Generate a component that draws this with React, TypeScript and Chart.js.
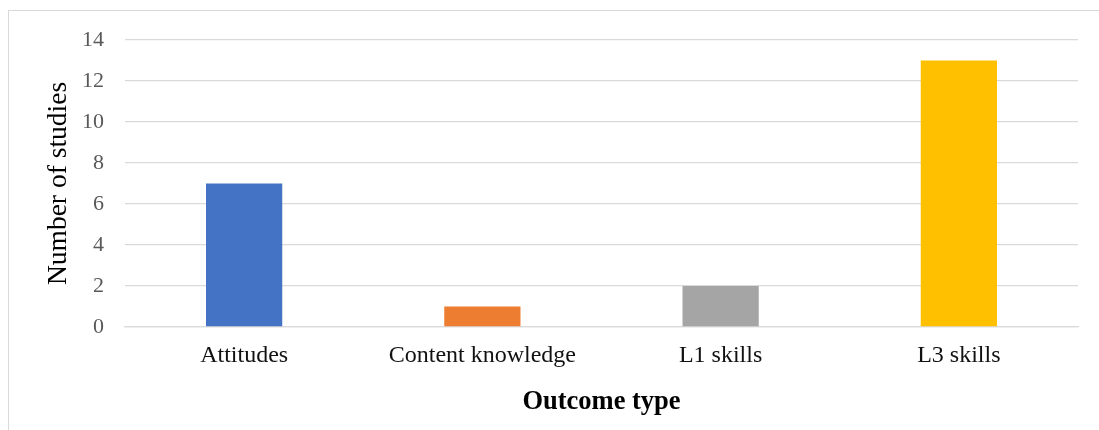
import React, { useEffect, useRef } from "react";
import { Chart, registerables } from "chart.js";

Chart.register(...registerables);

const categories = ["Attitudes", "Content knowledge", "L1 skills", "L3 skills"];
const studyCounts = [7, 1, 2, 13];
const barColors = ["#4472C4", "#ED7D31", "#A5A5A5", "#FFC000"];
const yTicks = [0, 2, 4, 6, 8, 10, 12, 14];

const SERIF = "'Liberation Serif', 'Times New Roman', serif";

export default function App() {
  const canvasRef = useRef<HTMLCanvasElement | null>(null);

  useEffect(() => {
    const canvas = canvasRef.current;
    if (!canvas) return;
    const chart = new Chart(canvas, {
      type: "bar",
      data: {
        labels: categories,
        datasets: [
          {
            data: studyCounts,
            backgroundColor: barColors,
            borderWidth: 0,
            categoryPercentage: 1,
            barPercentage: 0.32,
          },
        ],
      },
      options: {
        responsive: false,
        animation: false,
        devicePixelRatio: 1,
        layout: { padding: { left: 0, right: 21, top: 40, bottom: 0 } },
        plugins: {
          legend: { display: false },
          tooltip: { enabled: false },
        },
        scales: {
          x: {
            grid: { display: false, drawTicks: false },
            border: { display: true, color: "#d9d9d9", width: 1.3 },
            ticks: {
              color: "#111111",
              font: { family: SERIF, size: 24 },
              padding: 14,
              maxRotation: 0,
              autoSkip: false,
            },
            title: {
              display: true,
              text: "Outcome type",
              color: "#000000",
              font: { family: SERIF, size: 26.5, weight: "bold" },
              padding: { top: 0, bottom: 12 },
            },
            afterFit: (scale: any) => {
              scale.height = 103;
            },
          },
          y: {
            min: 0,
            max: 14,
            afterBuildTicks: (scale: any) => {
              scale.ticks = yTicks.map((v) => ({ value: v }));
            },
            grid: { color: "#d9d9d9", lineWidth: 1.3, drawTicks: false },
            border: { display: false },
            ticks: {
              color: "#595959",
              font: { family: SERIF, size: 22 },
              padding: 21,
            },
            title: {
              display: true,
              text: "Number of studies",
              color: "#000000",
              font: { family: SERIF, size: 27.5 },
              padding: { top: 42, bottom: 0 },
            },
            afterFit: (scale: any) => {
              scale.width = 125;
            },
          },
        },
      },
    });
    return () => chart.destroy();
  }, []);

  return (
    <div
      style={{
        position: "absolute",
        left: 0,
        top: 0,
        width: 1099,
        height: 430,
        overflow: "hidden",
        background: "#ffffff",
      }}
    >
      <div
        style={{
          position: "absolute",
          left: 8,
          top: 10,
          width: 1200,
          height: 600,
          border: "1.3px solid #d9d9d9",
        }}
      />
      <canvas
        ref={canvasRef}
        width={1099}
        height={430}
        style={{ position: "absolute", left: 0, top: 0, width: 1099, height: 430 }}
      />
    </div>
  );
}
